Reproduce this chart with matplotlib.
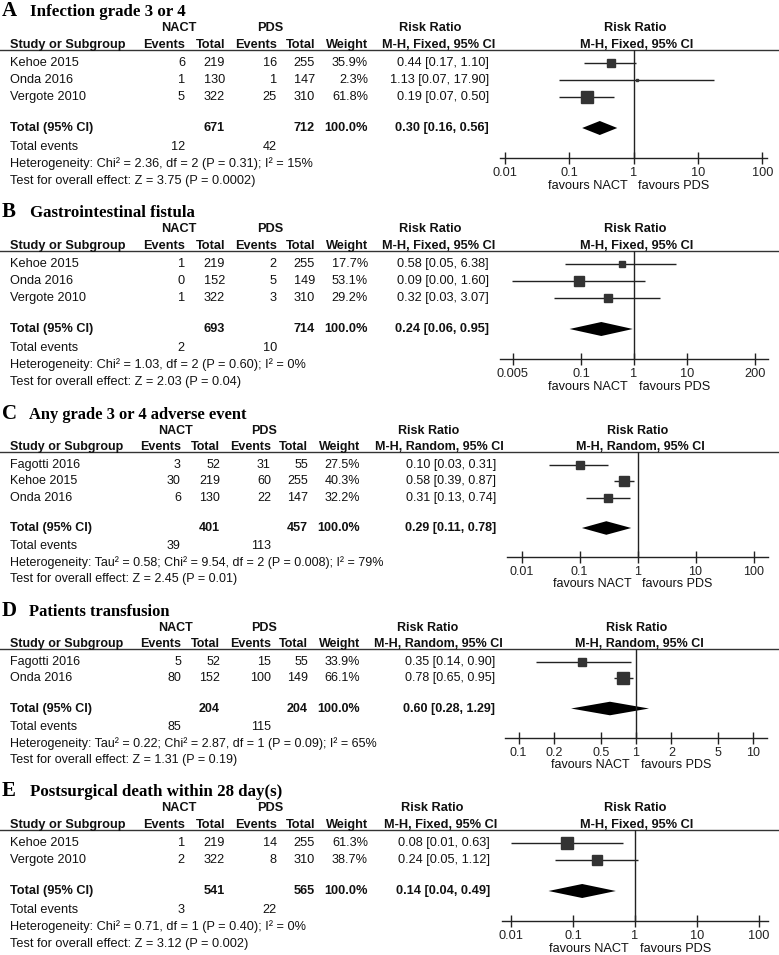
import matplotlib
matplotlib.use("Agg")
import matplotlib.pyplot as plt
from matplotlib.ticker import NullLocator, FixedLocator, FixedFormatter

# ============================================================
# 数据
# ============================================================
# A  Infection grade 3 or 4
a_studies = ["Kehoe 2015", "Onda 2016", "Vergote 2010"]
a_nact_events = [6, 1, 5]
a_nact_total = [219, 130, 322]
a_pds_events = [16, 1, 25]
a_pds_total = [255, 147, 310]
a_weight = [35.9, 2.3, 61.8]
a_rr = [0.44, 1.13, 0.19]
a_lo = [0.17, 0.07, 0.07]
a_hi = [1.10, 17.90, 0.50]
a_total = [671, 712, 12, 42]          # NACT total, PDS total, NACT events, PDS events
a_pooled = [0.30, 0.16, 0.56]
a_het = "Heterogeneity: Chi² = 2.36, df = 2 (P = 0.31); I² = 15%"
a_test = "Test for overall effect: Z = 3.75 (P = 0.0002)"
a_ticks = [0.01, 0.1, 1, 10, 100]

# B  Gastrointestinal fistula
b_studies = ["Kehoe 2015", "Onda 2016", "Vergote 2010"]
b_nact_events = [1, 0, 1]
b_nact_total = [219, 152, 322]
b_pds_events = [2, 5, 3]
b_pds_total = [255, 149, 310]
b_weight = [17.7, 53.1, 29.2]
b_rr = [0.58, 0.09, 0.32]
b_lo = [0.05, 0.0049, 0.03]
b_hi = [6.38, 1.60, 3.07]
b_total = [693, 714, 2, 10]
b_pooled = [0.24, 0.06, 0.95]
b_het = "Heterogeneity: Chi² = 1.03, df = 2 (P = 0.60); I² = 0%"
b_test = "Test for overall effect: Z = 2.03 (P = 0.04)"
b_ticks = [0.005, 0.1, 1, 10, 200]

# C  Any grade 3 or 4 adverse event
c_studies = ["Fagotti 2016", "Kehoe 2015", "Onda 2016"]
c_nact_events = [3, 30, 6]
c_nact_total = [52, 219, 130]
c_pds_events = [31, 60, 22]
c_pds_total = [55, 255, 147]
c_weight = [27.5, 40.3, 32.2]
c_rr = [0.10, 0.58, 0.31]
c_lo = [0.03, 0.39, 0.13]
c_hi = [0.31, 0.87, 0.74]
c_total = [401, 457, 39, 113]
c_pooled = [0.29, 0.11, 0.78]
c_het = "Heterogeneity: Tau² = 0.58; Chi² = 9.54, df = 2 (P = 0.008); I² = 79%"
c_test = "Test for overall effect: Z = 2.45 (P = 0.01)"
c_ticks = [0.01, 0.1, 1, 10, 100]

# D  Patients transfusion
d_studies = ["Fagotti 2016", "Onda 2016"]
d_nact_events = [5, 80]
d_nact_total = [52, 152]
d_pds_events = [15, 100]
d_pds_total = [55, 149]
d_weight = [33.9, 66.1]
d_rr = [0.35, 0.78]
d_lo = [0.14, 0.65]
d_hi = [0.90, 0.95]
d_total = [204, 204, 85, 115]
d_pooled = [0.60, 0.28, 1.29]
d_het = "Heterogeneity: Tau² = 0.22; Chi² = 2.87, df = 1 (P = 0.09); I² = 65%"
d_test = "Test for overall effect: Z = 1.31 (P = 0.19)"
d_ticks = [0.1, 0.2, 0.5, 1, 2, 5, 10]

# E  Postsurgical death within 28 day(s)
e_studies = ["Kehoe 2015", "Vergote 2010"]
e_nact_events = [1, 2]
e_nact_total = [219, 322]
e_pds_events = [14, 8]
e_pds_total = [255, 310]
e_weight = [61.3, 38.7]
e_rr = [0.08, 0.24]
e_lo = [0.01, 0.05]
e_hi = [0.63, 1.12]
e_total = [541, 565, 3, 22]
e_pooled = [0.14, 0.04, 0.49]
e_het = "Heterogeneity: Chi² = 0.71, df = 1 (P = 0.40); I² = 0%"
e_test = "Test for overall effect: Z = 3.12 (P = 0.002)"
e_ticks = [0.01, 0.1, 1, 10, 100]

panels = [
    dict(letter="A", title="Infection grade 3 or 4", method="Fixed",
         studies=a_studies, e1=a_nact_events, n1=a_nact_total, e2=a_pds_events, n2=a_pds_total,
         w=a_weight, rr=a_rr, lo=a_lo, hi=a_hi, total=a_total, pooled=a_pooled,
         het=a_het, test=a_test, ticks=a_ticks),
    dict(letter="B", title="Gastrointestinal fistula", method="Fixed",
         studies=b_studies, e1=b_nact_events, n1=b_nact_total, e2=b_pds_events, n2=b_pds_total,
         w=b_weight, rr=b_rr, lo=b_lo, hi=b_hi, total=b_total, pooled=b_pooled,
         het=b_het, test=b_test, ticks=b_ticks),
    dict(letter="C", title="Any grade 3 or 4 adverse event", method="Random",
         studies=c_studies, e1=c_nact_events, n1=c_nact_total, e2=c_pds_events, n2=c_pds_total,
         w=c_weight, rr=c_rr, lo=c_lo, hi=c_hi, total=c_total, pooled=c_pooled,
         het=c_het, test=c_test, ticks=c_ticks),
    dict(letter="D", title="Patients transfusion", method="Random",
         studies=d_studies, e1=d_nact_events, n1=d_nact_total, e2=d_pds_events, n2=d_pds_total,
         w=d_weight, rr=d_rr, lo=d_lo, hi=d_hi, total=d_total, pooled=d_pooled,
         het=d_het, test=d_test, ticks=d_ticks),
    dict(letter="E", title="Postsurgical death within 28 day(s)", method="Fixed",
         studies=e_studies, e1=e_nact_events, n1=e_nact_total, e2=e_pds_events, n2=e_pds_total,
         w=e_weight, rr=e_rr, lo=e_lo, hi=e_hi, total=e_total, pooled=e_pooled,
         het=e_het, test=e_test, ticks=e_ticks),
]

# ============================================================
# 版面（像素坐标）
# ============================================================
W, H = 779, 955
layout = [
    dict(anchor=28, sx=1.0, sy=1.0, axl=500, axr=767, span=2.07, ci_r=489, rr_h=430, mh_h=439, pl_h=636),
    dict(anchor=229, sx=1.0, sy=1.0, axl=500, axr=768, span=2.54, ci_r=489, rr_h=430, mh_h=439, pl_h=636),
    dict(anchor=431, sx=0.978, sy=0.97, axl=507, axr=768, span=2.25, ci_r=496, rr_h=429, mh_h=439, pl_h=639),
    dict(anchor=628, sx=0.978, sy=0.97, axl=505, axr=767, span=1.115, ci_r=495, rr_h=428, mh_h=438, pl_h=638),
    dict(anchor=808, sx=1.0, sy=1.0, axl=502, axr=768, span=2.15, ci_r=490, rr_h=432, mh_h=441, pl_h=636),
]

SANS = "Liberation Sans"
SERIF = "Liberation Serif"
TXT = "#111111"
SQ = "#333333"
PX = 0.72  # 1 px in points at dpi 100
FS = 9.2

fig = plt.figure(figsize=(W / 100, H / 100), dpi=100)
ax = fig.add_axes([0, 0, 1, 1])
ax.set_xlim(0, W)
ax.set_ylim(H, 0)
ax.axis("off")


def txt(x, y, s, ha="left", bold=False, fs=FS):
    ax.text(x, y, s, ha=ha, va="center", fontsize=fs, family=SANS,
            fontweight="bold" if bold else "normal", color=TXT)


for p, L in zip(panels, layout):
    y0, sx, sy = L["anchor"], L["sx"], L["sy"]
    fs = FS * sx
    X = lambda v: v * sx

    # 标题
    ax.text(2, y0 - 17, p["letter"], fontsize=15, family=SERIF, fontweight="bold",
            va="center", color="black")
    ax.text(X(30), y0 - 16, p["title"], fontsize=12.2 * sx, family=SERIF, fontweight="bold",
            va="center", color="black")

    # 表头
    txt(X(179), y0, "NACT", "center", True, fs)
    txt(X(270), y0, "PDS", "center", True, fs)
    txt(L["rr_h"], y0, "Risk Ratio", "center", True, fs)
    txt(L["pl_h"] - 1, y0, "Risk Ratio", "center", True, fs)
    mh = f"M-H, {p['method']}, 95% CI"
    yh = y0 + 17 * sy
    txt(X(10), yh, "Study or Subgroup", "left", True, fs)
    txt(X(185), yh, "Events", "right", True, fs)
    txt(X(225), yh, "Total", "right", True, fs)
    txt(X(277), yh, "Events", "right", True, fs)
    txt(X(315), yh, "Total", "right", True, fs)
    txt(X(368), yh, "Weight", "right", True, fs)
    txt(L["mh_h"], yh, mh, "center", True, fs)
    txt(L["pl_h"] + 1, yh, mh, "center", True, fs)
    y_line = y0 + 22 * sy
    ax.plot([0, W], [y_line, y_line], color="#333333", lw=1.0)

    # 各研究
    rows = [y0 + (35 + 17 * i) * sy for i in range(len(p["studies"]))]
    for i, y in enumerate(rows):
        txt(X(10), y, p["studies"][i], fs=fs)
        txt(X(185), y, str(p["e1"][i]), "right", fs=fs)
        txt(X(225), y, str(p["n1"][i]), "right", fs=fs)
        txt(X(277), y, str(p["e2"][i]), "right", fs=fs)
        txt(X(315), y, str(p["n2"][i]), "right", fs=fs)
        txt(X(368), y, f"{p['w'][i]:.1f}%", "right", fs=fs)
        txt(L["ci_r"], y, f"{p['rr'][i]:.2f} [{p['lo'][i]:.2f}, {p['hi'][i]:.2f}]", "right", fs=fs)

    # 合计
    y_tot = rows[-1] + 31 * sy
    pr, plo, phi = p["pooled"]
    txt(X(10), y_tot, "Total (95% CI)", "left", True, fs)
    txt(X(225), y_tot, str(p["total"][0]), "right", True, fs)
    txt(X(315), y_tot, str(p["total"][1]), "right", True, fs)
    txt(X(368), y_tot, "100.0%", "right", True, fs)
    txt(L["ci_r"], y_tot, f"{pr:.2f} [{plo:.2f}, {phi:.2f}]", "right", True, fs)
    y_ev = y_tot + 19 * sy
    txt(X(10), y_ev, "Total events", fs=fs)
    txt(X(185), y_ev, str(p["total"][2]), "right", fs=fs)
    txt(X(277), y_ev, str(p["total"][3]), "right", fs=fs)
    txt(X(10), y_ev + 17 * sy, p["het"], fs=fs)
    txt(X(10), y_ev + 34 * sy, p["test"], fs=fs)

    # 森林图
    y_axis = y_tot + 30 * sy
    fa = fig.add_axes([L["axl"] / W, 1 - y_axis / H, (L["axr"] - L["axl"]) / W, (y_axis - y_line) / H])
    fa.set_xscale("log")
    fa.set_xlim(10 ** -L["span"], 10 ** L["span"])
    fa.set_ylim(y_axis, y_line)
    fa.patch.set_visible(False)
    for side in ["top", "left", "right"]:
        fa.spines[side].set_visible(False)
    fa.spines["bottom"].set_linewidth(1.0)
    fa.spines["bottom"].set_color("#222222")
    fa.set_yticks([])
    fa.xaxis.set_major_locator(FixedLocator(p["ticks"]))
    fa.xaxis.set_major_formatter(FixedFormatter([f"{t:g}" for t in p["ticks"]]))
    fa.xaxis.set_minor_locator(NullLocator())
    fa.tick_params(axis="x", direction="inout", length=9, width=1.0, pad=2.0,
                   labelsize=fs, colors="#222222")
    for lab in fa.get_xticklabels():
        lab.set_family(SANS)

    fa.axvline(1, color="#222222", lw=1.0)
    fa.hlines(rows, p["lo"], p["hi"], color="#222222", lw=1.0)
    for i, y in enumerate(rows):
        side = 1.45 * p["w"][i] ** 0.5 * PX
        fa.plot(p["rr"][i], y, marker="s", ms=side, color=SQ, mec=SQ, ls="none")
    hh = 7 * sy
    fa.fill([plo, pr, phi, pr], [y_tot, y_tot - hh, y_tot, y_tot + hh], color="black", lw=0)

    fa.annotate("favours NACT", xy=(1, 0), xycoords=("data", "axes fraction"),
                xytext=(-4.3, -28 * sy * PX), textcoords="offset points",
                ha="right", va="center", fontsize=fs, family=SANS, color=TXT)
    fa.annotate("favours PDS", xy=(1, 0), xycoords=("data", "axes fraction"),
                xytext=(3.6, -28 * sy * PX), textcoords="offset points",
                ha="left", va="center", fontsize=fs, family=SANS, color=TXT)

fig.savefig("out.png", dpi=100)
